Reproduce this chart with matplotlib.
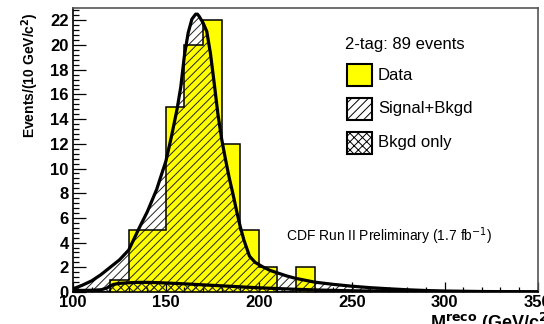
import matplotlib
matplotlib.use("Agg")
import matplotlib.pyplot as plt
from matplotlib.patches import Rectangle
from matplotlib.ticker import AutoMinorLocator

plt.rcParams["font.family"] = ["Liberation Sans", "DejaVu Sans"]
plt.rcParams["hatch.linewidth"] = 0.7
plt.rcParams["hatch.color"] = "#222222"

# Data histogram: 10 GeV bins from 100 to 350
bin_edges = list(range(100, 360, 10))
data_counts = [0, 0, 1, 5, 5, 15, 20, 22, 12, 5, 2, 0, 2,
               0, 0, 0, 0, 0, 0, 0, 0, 0, 0, 0, 0]

# Signal + background expectation
sig_mass = [100, 105, 110, 115, 120, 125, 130, 136, 140, 145, 150, 153, 156,
            158, 160, 162, 164, 166, 167, 168, 170, 172, 174, 176, 178, 180,
            182, 184, 186, 188, 190, 192, 195, 198, 202, 206, 210, 215, 220,
            225, 230, 240, 250, 260, 270, 280, 290, 300, 320, 350]
sig_value = [0.25, 0.55, 0.9, 1.4, 2.0, 2.6, 3.4, 5.3, 6.5, 8.3, 10.6, 12.6,
             14.8, 16.6, 19.2, 21.0, 22.1, 22.5, 22.5, 22.3, 21.8, 21.1, 19.3,
             16.9, 14.4, 12.4, 10.8, 9.3, 8.0, 6.6, 5.3, 4.2, 2.9, 2.4, 2.05,
             1.75, 1.55, 1.3, 1.1, 0.95, 0.8, 0.62, 0.47, 0.35, 0.26, 0.18,
             0.12, 0.08, 0.04, 0.01]

# Background-only expectation
bkg_mass = [100, 105, 110, 115, 118, 120, 122, 125, 130, 135, 140, 145, 150,
            160, 170, 180, 190, 200, 210, 220, 230, 240, 250, 260, 280, 300, 350]
bkg_value = [0.12, 0.13, 0.14, 0.18, 0.3, 0.5, 0.62, 0.7, 0.75, 0.78, 0.78,
             0.76, 0.73, 0.66, 0.58, 0.5, 0.42, 0.34, 0.28, 0.22, 0.17, 0.13,
             0.1, 0.08, 0.05, 0.03, 0.01]

x_ticks = [100, 150, 200, 250, 300, 350]
y_ticks = list(range(0, 24, 2))

W, H = 544, 324
fig = plt.figure(figsize=(W / 100, H / 100), dpi=100)
ax = fig.add_axes([73 / W, 1 - 292 / H, (537.5 - 73) / W, (292 - 8) / H])

# yellow data histogram
ax.stairs(data_counts, bin_edges, fill=True, color="#ffff00",
          linewidth=0, zorder=1)
# hatched expectations over the data
ax.fill_between(sig_mass, 0, sig_value, facecolor="none", hatch="////",
                edgecolor="#222222", linewidth=0, zorder=2)
ax.fill_between(bkg_mass, 0, bkg_value, facecolor="none", hatch="xxxx",
                edgecolor="#222222", linewidth=0, zorder=2)
# histogram outline
ax.stairs(data_counts, bin_edges, baseline=0, fill=False,
          edgecolor="black", linewidth=1.1, zorder=3)
# curves
ax.plot(sig_mass, sig_value, color="black", linewidth=2.3, zorder=4,
        solid_capstyle="round")
ax.plot(bkg_mass, bkg_value, color="black", linewidth=2.3, zorder=4)

ax.set_xlim(100, 350)
ax.set_ylim(0, 23)
ax.set_xticks(x_ticks)
ax.set_yticks(y_ticks)
ax.xaxis.set_minor_locator(AutoMinorLocator(5))
ax.yaxis.set_minor_locator(AutoMinorLocator(5))
ax.tick_params(which="both", direction="in", top=False, right=False,
               labelsize=12, colors="black")
ax.tick_params(axis="y", which="major", length=9, width=0.9, pad=3)
ax.tick_params(axis="y", which="minor", length=4.5, width=0.9)
ax.tick_params(axis="x", which="major", length=7.5, width=0.9, pad=2)
ax.tick_params(axis="x", which="minor", length=3.5, width=0.9)
for lab in ax.get_xticklabels() + ax.get_yticklabels():
    lab.set_fontweight("bold")

for side in ("left", "bottom"):
    ax.spines[side].set_linewidth(1.2)
    ax.spines[side].set_color("black")
for side in ("top", "right"):
    ax.spines[side].set_linewidth(1.2)
    ax.spines[side].set_color("#555555")

fig.text(30 / W, 1 - 12 / H, "Events/(10 GeV/c$^{\\mathbf{2}}$)", fontsize=10,
         fontweight="bold", rotation=90, ha="center", va="top")
fig.text(430 / W, 1 - 323 / H, "M$^{\\mathbf{reco}}$ (GeV/c$^{\\mathbf{2}}$)",
         fontsize=13, fontweight="bold", ha="left", va="center")

# legend
fig.text(345 / W, 1 - 45 / H, "2-tag: 89 events", fontsize=12,
         ha="left", va="center")
legend_rows = [("Data", dict(facecolor="#ffff00", hatch=None), 75),
               ("Signal+Bkgd", dict(facecolor="white", hatch="////"), 109),
               ("Bkgd only", dict(facecolor="white", hatch="xxxx"), 143)]
for label, style, yc in legend_rows:
    rect = Rectangle((347 / W, 1 - (yc + 11) / H), 25 / W, 22 / H,
                     transform=fig.transFigure, edgecolor="black",
                     linewidth=1.5, **style)
    fig.patches.append(rect)
    fig.text(378 / W, 1 - yc / H, label, fontsize=12, ha="left", va="center")

fig.text(286 / W, 1 - 236 / H, "CDF Run II Preliminary (1.7 fb$^{-1}$)",
         fontsize=10, ha="left", va="center")

fig.savefig("out.png", dpi=100)
